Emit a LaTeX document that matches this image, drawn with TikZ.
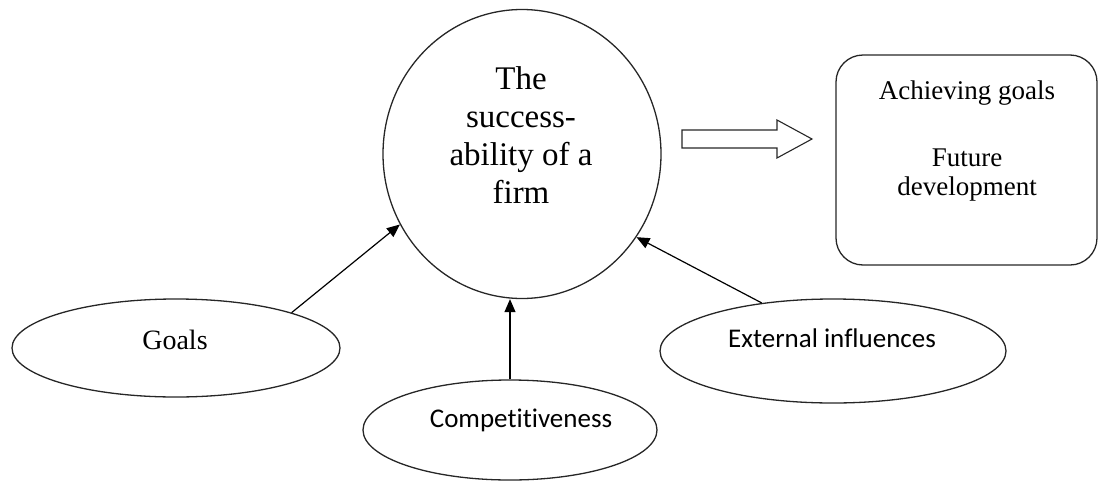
\documentclass[tikz,border=0pt]{standalone}
\usepackage{fontspec}
\setmainfont{Liberation Serif}
\newfontfamily\calibri[Ligatures=NoCommon]{Carlito}
\usetikzlibrary{arrows.meta,shapes.geometric}
\begin{document}
\begin{tikzpicture}[x=1pt,y=-1pt,
  shapeline/.style={draw=black!85,line width=1.3pt},
  oval/.style={shapeline,ellipse,inner sep=0pt},
  conn/.style={line width=1.2pt,-{Triangle[length=13pt,width=11pt]}},
  lbl/.style={inner sep=0pt,align=center}]
\useasboundingbox (0,0) rectangle (1106,485);
% central circle
\node[oval,minimum width=278pt,minimum height=289pt] (succ) at (522,154) {};
\node[lbl,font=\fontsize{33}{38}\selectfont] (succtext) at (521,135)
  {The\\success-\\ability of a\\firm};
% result box
\node[shapeline,rounded corners=27pt,minimum width=261pt,minimum height=210pt,inner sep=0pt] (result) at (966.5,160) {};
\node[lbl,font=\fontsize{27}{29}\selectfont] (resulttext) at (967,141)
  {Achieving goals\\[38pt]Future\\development};
% hollow arrow
\draw[shapeline,line width=1.1pt] (682,130) -- (777,130) -- (777,120) -- (812,139) -- (777,158) -- (777,148) -- (682,148) -- cycle;
% ellipses
\node[oval,minimum width=328pt,minimum height=98pt] (goals) at (176,348) {};
\node[lbl,font=\fontsize{28}{30}\selectfont] (goalstext) at (175,340) {Goals};
\node[oval,minimum width=294pt,minimum height=100pt] (comp) at (510,430) {};
\node[lbl,font=\calibri\fontsize{27}{30}\selectfont] (comptext) at (521,420) {Competitiveness};
\node[oval,minimum width=346pt,minimum height=104pt] (ext) at (833,351) {};
\node[lbl,font=\calibri\fontsize{27}{30}\selectfont] (exttext) at (832,338) {External influences};
% connectors
\draw[conn] (goals.17) -- (succ.210);
\draw[conn] (comp.north) -- (comp.north |- succ.south);
\draw[conn] (ext.146) -- (succ.-36);
\end{tikzpicture}
\end{document}
